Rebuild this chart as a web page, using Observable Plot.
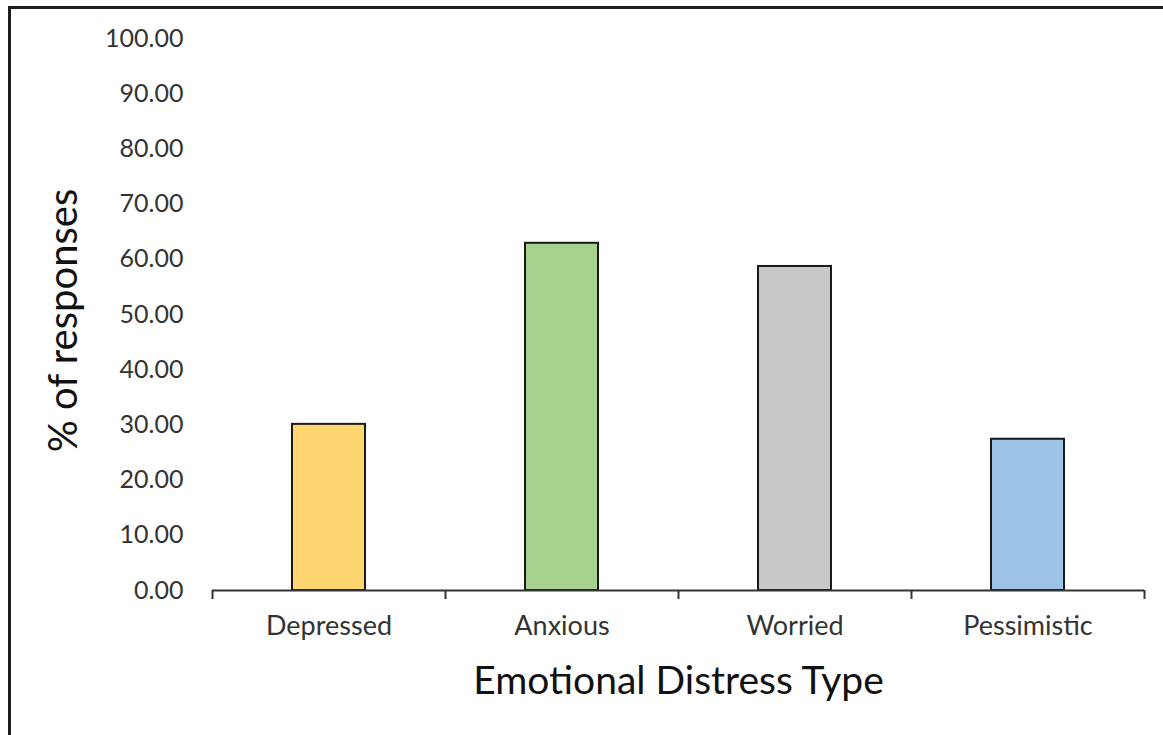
<!DOCTYPE html>
<html>
<head>
<meta charset="utf-8">
<script src="https://cdn.jsdelivr.net/npm/d3@7"></script>
<script src="https://cdn.jsdelivr.net/npm/@observablehq/plot@0.6"></script>
<style>
  html, body { margin: 0; padding: 0; background: #fff; }
  #wrap { position: relative; width: 1163px; height: 735px; overflow: hidden; }
  #frame { position: absolute; left: 8px; top: 6px; right: -10px; bottom: -10px;
           border-top: 3px solid #1e1e1e; border-left: 3px solid #1e1e1e; pointer-events: none; }
  #chart svg { display: block; }
</style>
</head>
<body>
<div id="wrap">
  <div id="chart"></div>
  <div id="frame"></div>
</div>
<script>
// Share of responses per emotional distress type
const categories = ["Depressed", "Anxious", "Worried", "Pessimistic"];
const percentages = [30.1, 62.9, 58.7, 27.4];
const barColors = ["#FFD56F", "#A6D18E", "#C8C8C8", "#9DC3E6"];
const yTicks = [0, 10, 20, 30, 40, 50, 60, 70, 80, 90, 100];
const xTitle = "Emotional Distress Type";
const yTitle = "% of responses";

const data = categories.map((c, i) => ({category: c, value: percentages[i], color: barColors[i]}));

const W = 1163, H = 735;
const mL = 212, mR = 19, mT = 38, mB = 145;
const step = (W - mL - mR) / categories.length;
const font = "Lato, 'Open Sans', sans-serif";

const chart = Plot.plot({
  width: W,
  height: H,
  marginLeft: mL,
  marginRight: mR,
  marginTop: mT,
  marginBottom: mB,
  style: {fontFamily: font, background: "transparent", color: "#333"},
  x: {domain: categories, paddingInner: 0.687, paddingOuter: 0.3435, label: null},
  y: {domain: [0, 100], label: null},
  marks: [
    Plot.barY(data, {x: "category", y: "value", fill: "color", stroke: "#1a1a1a", strokeWidth: 2}),
    Plot.ruleY([0], {stroke: "#333", strokeWidth: 2}),
    // category boundary ticks below the baseline
    Plot.ruleX(categories, {x: d => d, y1: 0, y2: 0, insetBottom: -9, dx: -step / 2, stroke: "#333", strokeWidth: 2}),
    Plot.ruleX(categories.slice(-1), {x: d => d, y1: 0, y2: 0, insetBottom: -9, dx: step / 2, stroke: "#333", strokeWidth: 2}),
    Plot.axisY({ticks: yTicks, tickFormat: d3.format(".2f"), tickSize: 0, tickPadding: 29,
                fontSize: 25, fill: "#333", label: null}),
    Plot.axisX({tickSize: 0, tickPadding: 25, fontSize: 27, fill: "#333", label: null}),
    Plot.text([xTitle], {frameAnchor: "bottom", dy: 103, fontSize: 39, fill: "#111"}),
    Plot.text([yTitle], {frameAnchor: "left", textAnchor: "middle", dx: -148, dy: 6, rotate: -90, fontSize: 40, fill: "#111"})
  ]
});

document.getElementById("chart").appendChild(chart);
</script>
</body>
</html>
